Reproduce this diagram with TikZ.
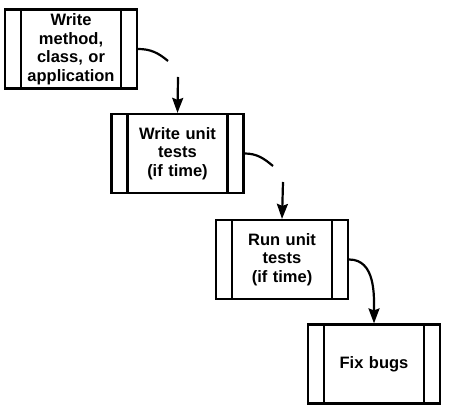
\documentclass[tikz,border=0pt]{standalone}
\usepackage{fontspec}
\setmainfont{Liberation Sans}
\usepackage{tikz}
\usetikzlibrary{positioning, arrows.meta, calc}

\begin{document}
\begin{tikzpicture}[
      x=1pt,y=-1pt,
      line width=2.2pt,
      process/.style={
        draw,
        minimum width=132pt,
        minimum height=79pt,
        text width=100pt,
        align=center,
        inner sep=0pt,
        font=\bfseries\fontsize{16.5}{18.5}\selectfont,
        path picture={
          \draw[line width=2.2pt] ([xshift=16pt]path picture bounding box.north west) -- ([xshift=16pt]path picture bounding box.south west);
          \draw[line width=2.2pt] ([xshift=-16pt]path picture bounding box.north east) -- ([xshift=-16pt]path picture bounding box.south east);
        },
      },
      flow/.style={-{Stealth[length=15pt,width=11pt,inset=2pt]}},
      ]
      \useasboundingbox (0,0) rectangle (449,411);
      \node[process] (write) at (71,49) {Write\\method,\\class, or\\application};
      \node[process] (tests) at (177.5,153.5) {Write unit\\tests\\(if time)};
      \node[process] (run) at (282,259.5) {Run unit\\tests\\(if time)};
      \node[process] (fix) at (374,364) {Fix bugs};
      % broken connectors
      \coordinate (brk1a) at (168,61);
      \coordinate (brk1b) at (178,77);
      \coordinate (brk2a) at (273,166);
      \coordinate (brk2b) at (283,182);
      \draw (write.east) to[out=0,in=140] (brk1a);
      \draw[flow] (brk1b) -- (tests.north);
      \draw (tests.east) to[out=0,in=140] (brk2a);
      \draw[flow] (brk2b) -- (run.north);
      \draw[flow] (run.east) to[out=0,in=90] (fix.north);
    \end{tikzpicture}
\end{document}
